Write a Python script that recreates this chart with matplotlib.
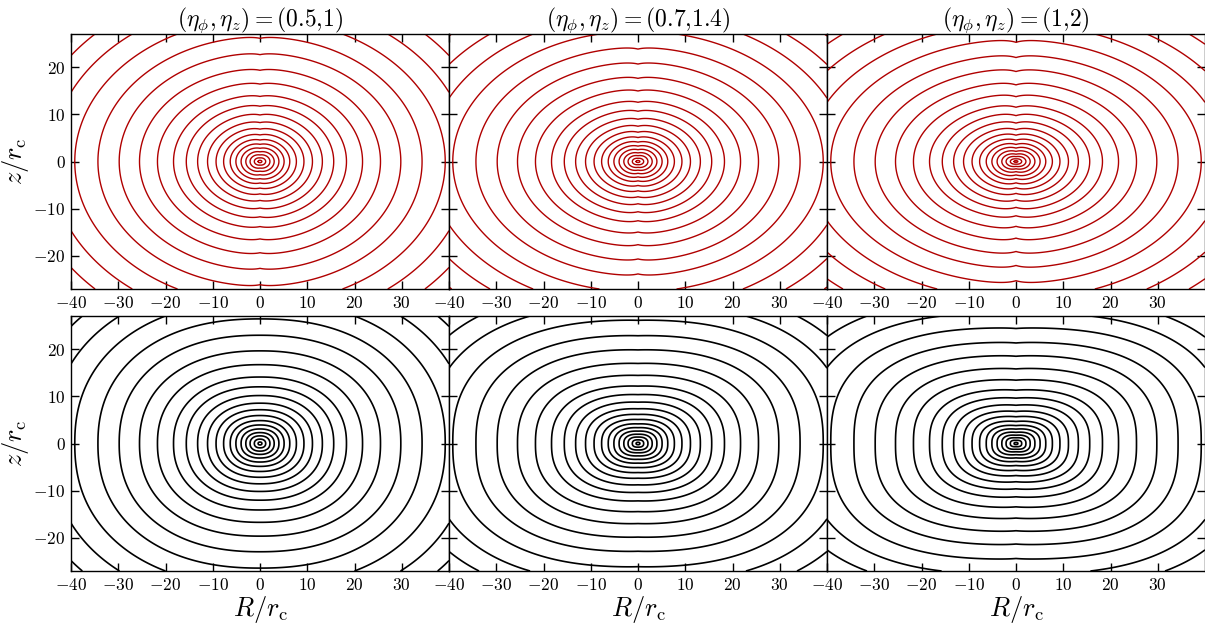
import numpy as np
import matplotlib
matplotlib.use("Agg")
import matplotlib.pyplot as plt
from matplotlib.ticker import FuncFormatter

plt.rcParams['mathtext.fontset'] = 'cm'
plt.rcParams['font.family'] = 'DejaVu Serif'

# ---- data ----
titles = [r'$(\eta_\phi,\eta_z)=(0.5{,}1)$',
          r'$(\eta_\phi,\eta_z)=(0.7{,}1.4)$',
          r'$(\eta_\phi,\eta_z)=(1{,}2)$']
# contour radii where the curves cross the z=0 axis (in r_c)
contour_radii = [0.4, 1.2, 2.1, 3.0, 4.0, 5.1, 6.3, 7.7, 9.3, 11.1, 13.2,
                 15.6, 18.3, 21.7, 25.5, 29.8, 34.3, 39.2, 44.3, 49.5, 55.0]
# shape of the contours: R-axis / z-axis crossing ratio
axis_ratio_top = [1.30, 1.42, 1.52]
axis_ratio_bot = [1.30, 1.50, 1.60]
boxiness_top = [2.0, 2.0, 2.0]
boxiness_bot = [2.25, 2.45, 2.65]
notch_depth_top = [0.30, 0.35, 0.55]
notch_width_top = [1.4, 1.4, 1.8]
notch_depth_bot = [0.0, 0.05, 0.15]
notch_width_bot = [1.4, 1.4, 1.8]
xticks = [-40, -30, -20, -10, 0, 10, 20, 30]
yticks = [-20, -10, 0, 10, 20]

W, H = 1205, 624
fig = plt.figure(figsize=(W / 100, H / 100), dpi=100)

R = np.linspace(-40, 40, 1601)
Z = np.linspace(-27, 27, 1081)
RR, ZZ = np.meshgrid(R, Z)


def field(q, p, depth, width):
    zp = np.abs(ZZ) + depth * np.exp(-np.abs(RR) / width) * (1 - np.exp(-np.abs(ZZ) / 1.0))
    return (np.abs(RR) ** p + np.abs(q * zp) ** p) ** (1.0 / p)


col_x = [71, 449, 827]
col_w = 378
row_y = [(34, 289), (316, 571)]
fmt = FuncFormatter(lambda v, pos: r'$%d$' % int(round(v)))

for row in range(2):
    for col in range(3):
        y0, y1 = row_y[row]
        ax = fig.add_axes([col_x[col] / W, 1 - y1 / H, col_w / W, (y1 - y0) / H])
        if row == 0:
            F = field(axis_ratio_top[col], boxiness_top[col], notch_depth_top[col], notch_width_top[col])
            color, lw = '#b00000', 1.0
        else:
            F = field(axis_ratio_bot[col], boxiness_bot[col], notch_depth_bot[col], notch_width_bot[col])
            color, lw = 'black', 1.2
        ax.contour(RR, ZZ, F, levels=contour_radii, colors=color, linewidths=lw)
        ax.set_xlim(-40, 40)
        ax.set_ylim(-27, 27)
        ax.set_xticks(xticks)
        ax.set_yticks(yticks)
        ax.xaxis.set_major_formatter(fmt)
        ax.yaxis.set_major_formatter(fmt)
        ax.tick_params(direction='in', top=True, right=True, length=6, width=1,
                       labelsize=12.5, pad=4)
        for s in ax.spines.values():
            s.set_linewidth(1.0)
        if col > 0:
            ax.tick_params(labelleft=False)
        else:
            ax.set_ylabel(r'$z/r_{\rm c}$', fontsize=19, labelpad=2)
        if row == 0:
            ax.set_title(titles[col], fontsize=17, pad=6)
        else:
            ax.set_xlabel(r'$R/r_{\rm c}$', fontsize=19, labelpad=0)

fig.savefig('out.png', dpi=100)
